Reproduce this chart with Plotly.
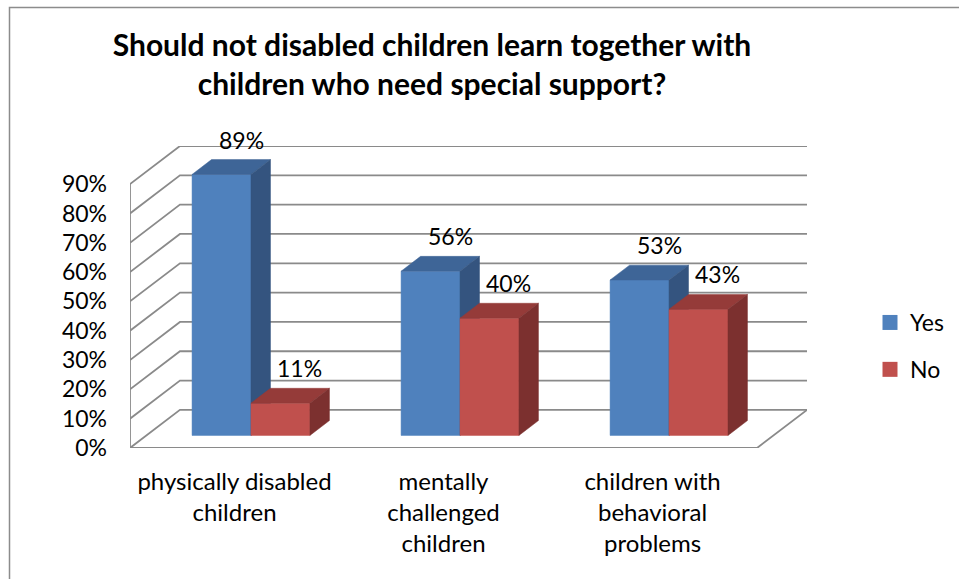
import plotly.graph_objects as go

# ---- data -------------------------------------------------------------
categories = [
    "physically disabled<br>children",
    "mentally<br>challenged<br>children",
    "children with<br>behavioral<br>problems",
]
series_names = ["Yes", "No"]
yes_values = [89, 56, 53]
no_values = [11, 40, 43]
y_ticks = [0, 10, 20, 30, 40, 50, 60, 70, 80, 90]

# ---- 3-D look (oblique projection expressed in axis units) -------------
Y_MAX = 90
DEPTH_X = 0.239      # full floor depth, x units
DEPTH_Y = 13.0       # full floor depth, y units
F0, F1 = 0.33, 0.72  # bar front / back as fraction of floor depth
BAR_W = 0.282
X0, X1 = -0.5, len(categories) - 0.5

FRONT = {"Yes": "#4F81BD", "No": "#C0504D"}
TOP = {"Yes": "#3E6597", "No": "#953B39"}
SIDE = {"Yes": "#34547F", "No": "#7C302F"}
GRID = "#8A8A8A"
FONT = "Lato"


def proj(x, y, f):
    return x + f * DEPTH_X, y + f * DEPTH_Y


fig = go.Figure()

# walls: side-wall diagonals and back-wall gridlines
for v in y_ticks:
    ax, ay = proj(X0, v, 0)
    bx, by = proj(X0, v, 1)
    cx, cy = proj(X1, v, 1)
    fig.add_trace(go.Scatter(x=[ax, bx, cx], y=[ay, by, cy], mode="lines",
                             line=dict(color=GRID, width=1.8),
                             hoverinfo="skip", showlegend=False))
# front left axis line and floor edges
fig.add_trace(go.Scatter(x=[X0, X0], y=[0, Y_MAX], mode="lines",
                         line=dict(color=GRID, width=1.8),
                         hoverinfo="skip", showlegend=False))
fx, fy = proj(X1, 0, 1)
fig.add_trace(go.Scatter(x=[X0, X1, fx], y=[0, 0, fy], mode="lines",
                         line=dict(color=GRID, width=1.8),
                         hoverinfo="skip", showlegend=False))


def poly(pts, color):
    xs = [p[0] for p in pts] + [pts[0][0]]
    ys = [p[1] for p in pts] + [pts[0][1]]
    fig.add_trace(go.Scatter(x=xs, y=ys, mode="lines", fill="toself",
                             fillcolor=color, line=dict(color=color, width=0.5),
                             hoverinfo="skip", showlegend=False))


annotations = []
for i in range(len(categories)):
    for s, (name, vals) in enumerate(zip(series_names, [yes_values, no_values])):
        v = vals[i]
        xl = i - BAR_W + s * BAR_W
        xr = xl + BAR_W
        # front face
        poly([proj(xl, 0, F0), proj(xr, 0, F0), proj(xr, v, F0), proj(xl, v, F0)],
             FRONT[name])
        # top face
        poly([proj(xl, v, F0), proj(xr, v, F0), proj(xr, v, F1), proj(xl, v, F1)],
             TOP[name])
        # right side face
        poly([proj(xr, 0, F0), proj(xr, 0, F1), proj(xr, v, F1), proj(xr, v, F0)],
             SIDE[name])
        lx, ly = proj((xl + xr) / 2, v, F1)
        annotations.append(dict(x=lx, y=ly, text=f"{v}%", showarrow=False,
                                xshift=0, yshift=20,
                                font=dict(family=FONT, size=23, color="#000000")))

# legend entries
for name in series_names:
    fig.add_trace(go.Scatter(x=[None], y=[None], mode="markers", name=name,
                             legendgroup=name,
                             marker=dict(symbol="square", size=15, color=FRONT[name])))

# chart frame
L, R, T, B = 130, 152, 146, 131
PW, PH = 959 - L - R, 579 - T - B


def px_x(p):
    return (p - L) / PW


def px_y(p):
    return (579 - B - p) / PH


fig.add_shape(type="rect", xref="paper", yref="paper",
              x0=px_x(9.5), x1=px_x(990), y0=px_y(7.5), y1=px_y(620),
              line=dict(color="#8C8C8C", width=1.5), layer="below")

fig.update_layout(
    width=959, height=579,
    margin=dict(l=L, r=R, t=T, b=B, autoexpand=False),
    paper_bgcolor="white", plot_bgcolor="white",
    title=dict(text="Should not disabled children learn together with<br>"
                    "children who need special support?",
               xref="container", yref="container", x=432 / 959, y=1 - 56 / 579,
               xanchor="center", yanchor="middle",
               font=dict(family=FONT, size=30, color="#000000", weight="bold")),
    xaxis=dict(range=[X0, X1 + DEPTH_X], tickvals=list(range(len(categories))),
               ticktext=categories, showgrid=False, zeroline=False, showline=False,
               ticks="", ticklabelstandoff=17,
               tickfont=dict(family=FONT, size=24, color="#000000")),
    yaxis=dict(range=[0, Y_MAX + DEPTH_Y], tickvals=y_ticks,
               ticktext=[f"{t}%" for t in y_ticks], showgrid=False, zeroline=False,
               showline=False, ticks="", ticklabelstandoff=22,
               tickfont=dict(family=FONT, size=23, color="#000000")),
    legend=dict(x=px_x(870), y=px_y(301), xanchor="left", yanchor="top",
                font=dict(family=FONT, size=23, color="#000000"),
                tracegroupgap=14, itemwidth=30, bgcolor="rgba(0,0,0,0)"),
    annotations=annotations,
    showlegend=True,
)

fig.write_html("out.html")
